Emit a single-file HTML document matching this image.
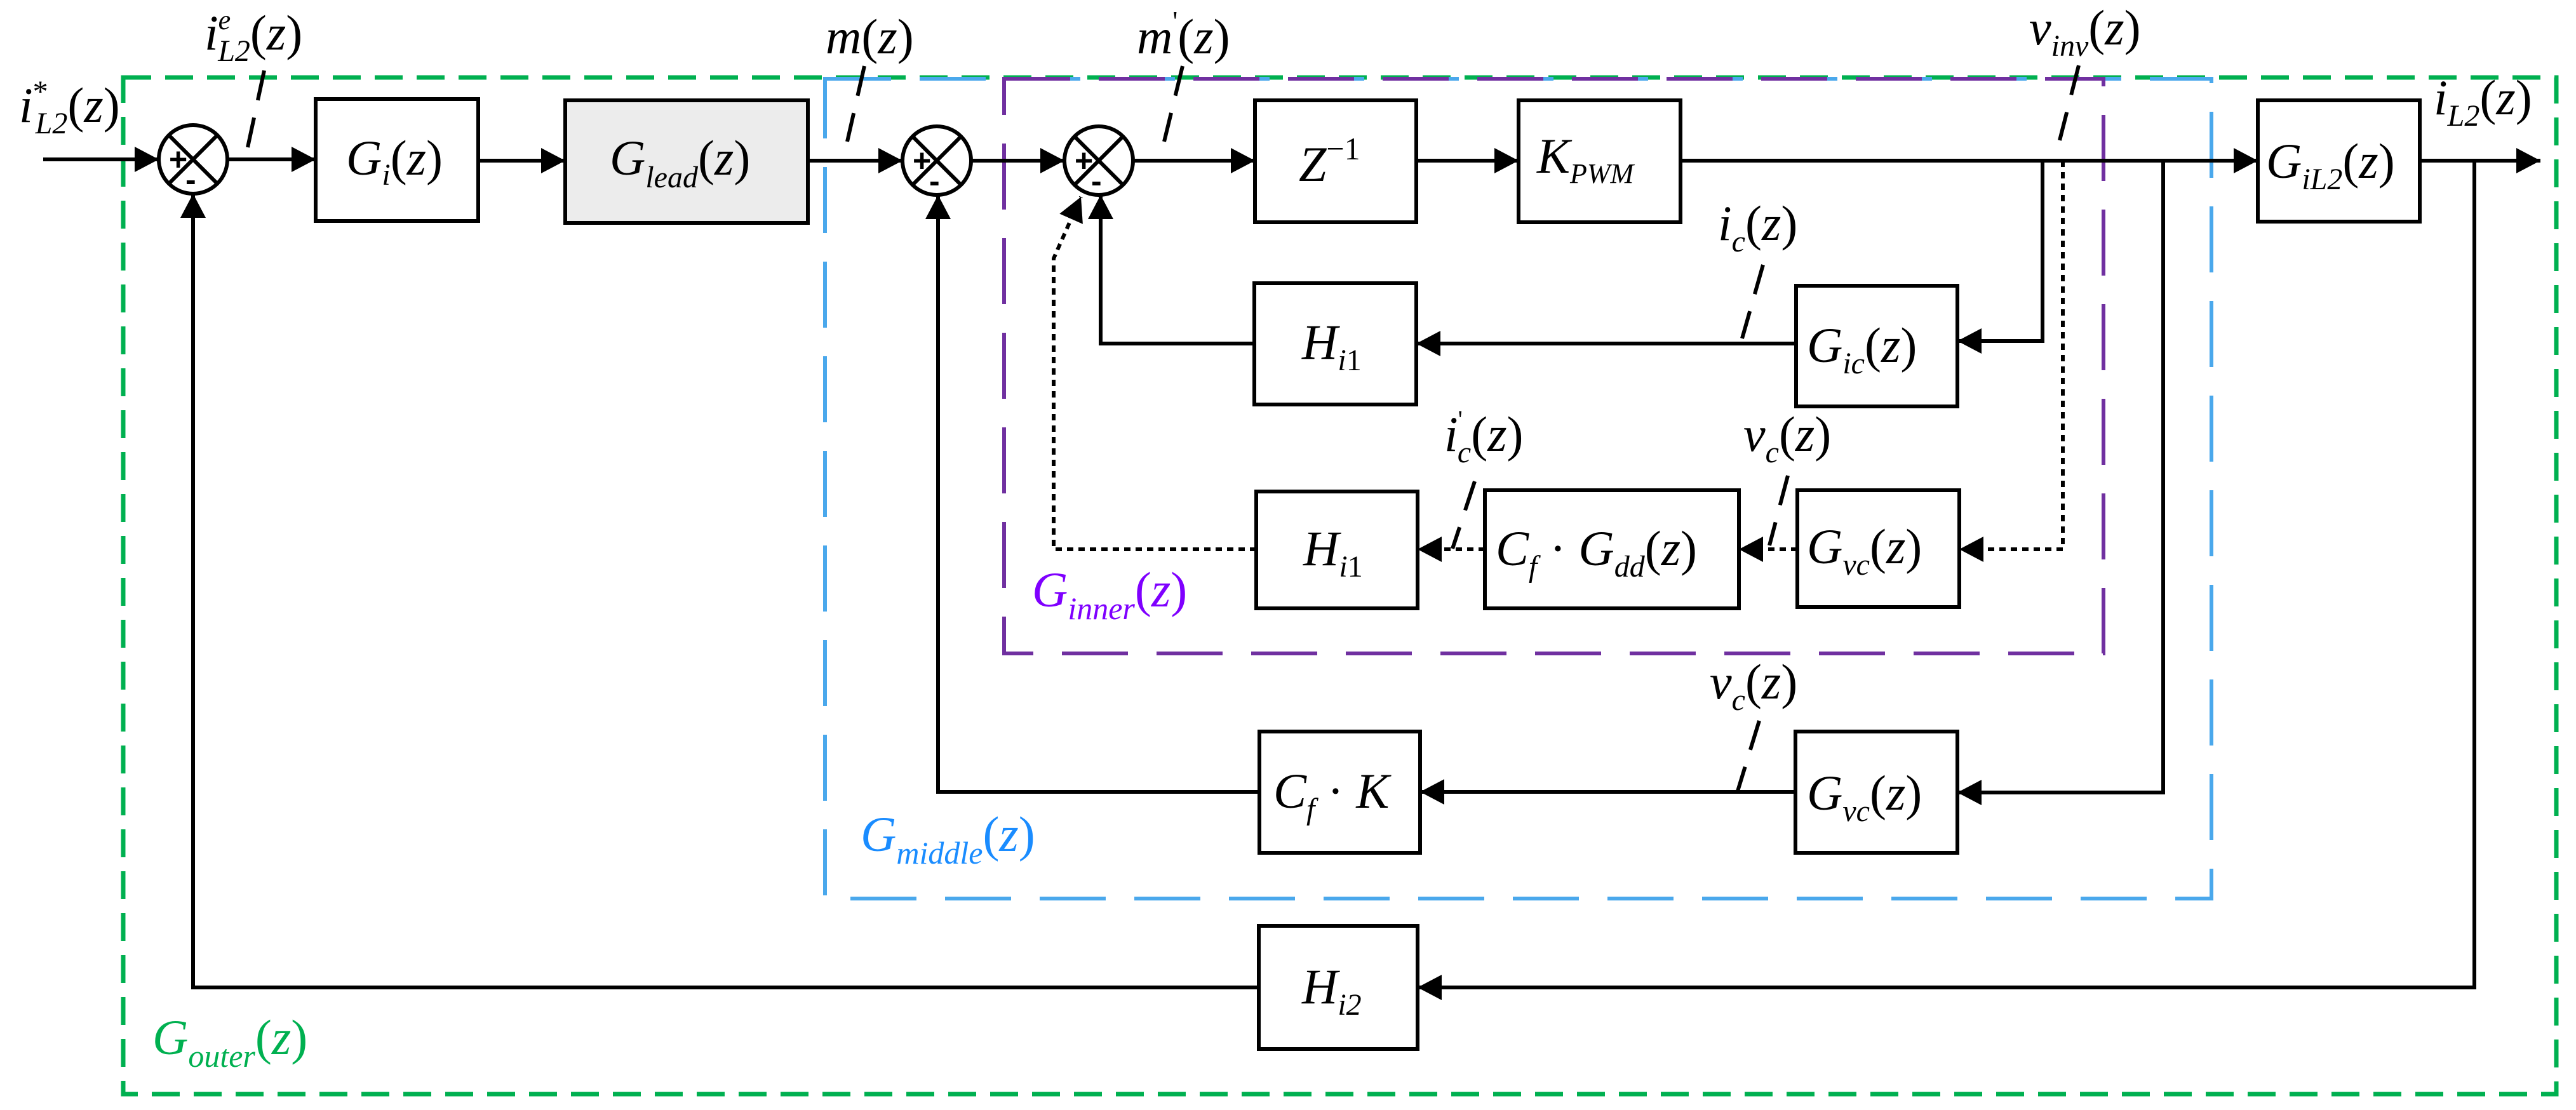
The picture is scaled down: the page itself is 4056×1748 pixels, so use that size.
<!DOCTYPE html>
<html><head><meta charset="utf-8"><style>
html,body{margin:0;padding:0;background:#fff;}
svg{display:block;}
text{font-family:"Liberation Serif",serif;font-style:italic;fill:#000;}
</style></head><body>
<svg width="4056" height="1748" viewBox="0 0 4056 1748" xmlns="http://www.w3.org/2000/svg">
<defs>
<marker id="a" markerUnits="userSpaceOnUse" markerWidth="44" markerHeight="44" refX="38" refY="20" orient="auto">
<path d="M0,0 L38,20 L0,40 Z" fill="#000"/>
</marker>
</defs>

<rect x="194" y="122" width="3831" height="1601" fill="none" stroke="#00b050" stroke-width="7" stroke-dasharray="44,22"/>
<rect x="1299" y="124" width="2183" height="1291" fill="none" stroke="#4aa8ec" stroke-width="6" stroke-dasharray="104,45"/>
<rect x="1581" y="124" width="1731" height="905" fill="none" stroke="#7030a0" stroke-width="6" stroke-dasharray="104,45"/>

<g fill="none" stroke="#000" stroke-width="6">
<rect x="497" y="156" width="256" height="192" fill="#fff"/>
<rect x="890" y="158" width="382" height="193" fill="#ececec"/>
<rect x="1976" y="158" width="254" height="192" fill="#fff"/>
<rect x="2391" y="158" width="255" height="192" fill="#fff"/>
<rect x="3555" y="158" width="255" height="191" fill="#fff"/>
<rect x="1975" y="446" width="255" height="191" fill="#fff"/>
<rect x="2828" y="450" width="254" height="190" fill="#fff"/>
<rect x="1978" y="774" width="254" height="184" fill="#fff"/>
<rect x="2338" y="772" width="400" height="186" fill="#fff"/>
<rect x="2830" y="772" width="255" height="184" fill="#fff"/>
<rect x="1983" y="1152" width="253" height="191" fill="#fff"/>
<rect x="2827" y="1152" width="255" height="191" fill="#fff"/>
<rect x="1982" y="1458" width="250" height="194" fill="#fff"/>

<circle cx="304" cy="251" r="54"/>
<line x1="266" y1="213" x2="342" y2="289"/><line x1="342" y1="213" x2="266" y2="289"/>
<circle cx="1475" cy="253" r="54"/>
<line x1="1437" y1="215" x2="1513" y2="291"/><line x1="1513" y1="215" x2="1437" y2="291"/>
<circle cx="1730" cy="253" r="54"/>
<line x1="1692" y1="215" x2="1768" y2="291"/><line x1="1768" y1="215" x2="1692" y2="291"/>

<line x1="68" y1="251" x2="250" y2="251" marker-end="url(#a)"/>
<line x1="358" y1="251" x2="497" y2="251" marker-end="url(#a)"/>
<line x1="753" y1="253" x2="890" y2="253" marker-end="url(#a)"/>
<line x1="1272" y1="253" x2="1421" y2="253" marker-end="url(#a)"/>
<line x1="1529" y1="253" x2="1676" y2="253" marker-end="url(#a)"/>
<line x1="1784" y1="253" x2="1976" y2="253" marker-end="url(#a)"/>
<line x1="2230" y1="253" x2="2391" y2="253" marker-end="url(#a)"/>
<line x1="2646" y1="253" x2="3555" y2="253" marker-end="url(#a)"/>
<line x1="3810" y1="253" x2="4000" y2="253" marker-end="url(#a)"/>

<polyline points="3216,253 3216,537 3082,537" marker-end="url(#a)"/>
<line x1="2828" y1="541" x2="2230" y2="541" marker-end="url(#a)"/>
<polyline points="1975,541 1733,541 1733,307" marker-end="url(#a)"/>

<g stroke-dasharray="10,8">
<polyline points="3248,253 3248,865 3085,865" marker-end="url(#a)"/>
<line x1="2830" y1="865" x2="2738" y2="865" marker-end="url(#a)"/>
<line x1="2338" y1="865" x2="2232" y2="865" marker-end="url(#a)"/>
<polyline points="1978,865 1659,865 1659,407 1702,310" marker-end="url(#a)"/>
</g>

<polyline points="3406,253 3406,1248 3082,1248" marker-end="url(#a)"/>
<line x1="2827" y1="1247" x2="2236" y2="1247" marker-end="url(#a)"/>
<polyline points="1983,1247 1477,1247 1477,307" marker-end="url(#a)"/>

<polyline points="3896,253 3896,1555 2232,1555" marker-end="url(#a)"/>
<polyline points="1982,1555 304,1555 304,305" marker-end="url(#a)"/>

<g stroke-width="6" stroke-dasharray="48,28">
<line x1="416" y1="111" x2="390" y2="232"/>
<line x1="1361" y1="104" x2="1334" y2="223"/>
<line x1="1862" y1="104" x2="1833" y2="223"/>
<line x1="3273" y1="103" x2="3243" y2="221"/>
<line x1="2776" y1="417" x2="2743" y2="533"/>
<line x1="2815" y1="749" x2="2786" y2="859"/>
<line x1="2322" y1="758" x2="2287" y2="864"/>
<line x1="2770" y1="1135" x2="2735" y2="1249"/>
</g>
</g>

<g style="font-style:normal;font-family:'Liberation Sans',sans-serif;font-weight:bold" font-size="50">
<text x="266" y="268" style="font-style:normal;font-family:'Liberation Sans',sans-serif;font-weight:bold">+</text>
<text x="292" y="300" style="font-style:normal;font-family:'Liberation Sans',sans-serif;font-weight:bold">-</text>
<text x="1437" y="270" style="font-style:normal;font-family:'Liberation Sans',sans-serif;font-weight:bold">+</text>
<text x="1463" y="302" style="font-style:normal;font-family:'Liberation Sans',sans-serif;font-weight:bold">-</text>
<text x="1692" y="270" style="font-style:normal;font-family:'Liberation Sans',sans-serif;font-weight:bold">+</text>
<text x="1718" y="302" style="font-style:normal;font-family:'Liberation Sans',sans-serif;font-weight:bold">-</text>
</g>

<g font-size="78">
<text x="545" y="275">G<tspan font-size="48" dy="16">i</tspan><tspan dy="-16" style="font-style:normal">(</tspan>z<tspan style="font-style:normal">)</tspan></text>
<text x="960" y="275">G<tspan font-size="48" dy="20">lead</tspan><tspan dy="-20" style="font-style:normal">(</tspan>z<tspan style="font-style:normal">)</tspan></text>
<text x="2045" y="285">Z<tspan font-size="50" dy="-34" style="font-style:normal">−1</tspan></text>
<text x="2420" y="272">K<tspan font-size="44" dy="16">PWM</tspan></text>
<text x="3568" y="280">G<tspan font-size="48" dy="18">iL2</tspan><tspan dy="-18" style="font-style:normal">(</tspan>z<tspan style="font-style:normal">)</tspan></text>
<text x="2050" y="565">H<tspan font-size="48" dy="18">i</tspan><tspan font-size="48" style="font-style:normal">1</tspan></text>
<text x="2845" y="570">G<tspan font-size="48" dy="18">ic</tspan><tspan dy="-18" style="font-style:normal">(</tspan>z<tspan style="font-style:normal">)</tspan></text>
<text x="2052" y="890">H<tspan font-size="48" dy="18">i</tspan><tspan font-size="48" style="font-style:normal">1</tspan></text>
<text x="2355" y="890">C<tspan font-size="48" dy="18">f</tspan><tspan dy="-18" style="font-style:normal"> · </tspan>G<tspan font-size="48" dy="18">dd</tspan><tspan dy="-18" style="font-style:normal">(</tspan>z<tspan style="font-style:normal">)</tspan></text>
<text x="2845" y="887">G<tspan font-size="48" dy="18">vc</tspan><tspan dy="-18" style="font-style:normal">(</tspan>z<tspan style="font-style:normal">)</tspan></text>
<text x="2005" y="1272">C<tspan font-size="48" dy="18">f</tspan><tspan dy="-18" style="font-style:normal"> · </tspan>K</text>
<text x="2845" y="1275">G<tspan font-size="48" dy="18">vc</tspan><tspan dy="-18" style="font-style:normal">(</tspan>z<tspan style="font-style:normal">)</tspan></text>
<text x="2050" y="1580">H<tspan font-size="48" dy="18">i2</tspan></text>

<text x="30" y="192">i<tspan font-size="48" dy="-32" style="font-style:normal">*</tspan><tspan font-size="48" dx="-20" dy="50">L2</tspan><tspan dy="-18" style="font-style:normal">(</tspan>z<tspan style="font-style:normal">)</tspan></text>
<text x="322" y="78">i<tspan font-size="44" dy="-32">e</tspan><tspan font-size="48" dx="-20" dy="50">L2</tspan><tspan dy="-18" style="font-style:normal">(</tspan>z<tspan style="font-style:normal">)</tspan></text>
<text x="1300" y="84">m<tspan style="font-style:normal">(</tspan>z<tspan style="font-style:normal">)</tspan></text>
<text x="1790" y="84">m<tspan font-size="44" dy="-36" style="font-style:normal">'</tspan><tspan dy="36" style="font-style:normal">(</tspan>z<tspan style="font-style:normal">)</tspan></text>
<text x="3195" y="70">v<tspan font-size="48" dy="18">inv</tspan><tspan dy="-18" style="font-style:normal">(</tspan>z<tspan style="font-style:normal">)</tspan></text>
<text x="3832" y="180">i<tspan font-size="48" dy="18">L2</tspan><tspan dy="-18" style="font-style:normal">(</tspan>z<tspan style="font-style:normal">)</tspan></text>
<text x="2705" y="378">i<tspan font-size="48" dy="18">c</tspan><tspan dy="-18" style="font-style:normal">(</tspan>z<tspan style="font-style:normal">)</tspan></text>
<text x="2745" y="710">v<tspan font-size="48" dy="18">c</tspan><tspan dy="-18" style="font-style:normal">(</tspan>z<tspan style="font-style:normal">)</tspan></text>
<text x="2274" y="710">i<tspan font-size="40" dy="-36" style="font-style:normal">'</tspan><tspan font-size="48" dx="-8" dy="54">c</tspan><tspan dy="-18" style="font-style:normal">(</tspan>z<tspan style="font-style:normal">)</tspan></text>
<text x="2692" y="1100">v<tspan font-size="48" dy="18">c</tspan><tspan dy="-18" style="font-style:normal">(</tspan>z<tspan style="font-style:normal">)</tspan></text>

<text x="1625" y="955" style="fill:#7f00ff">G<tspan font-size="50" dy="20">inner</tspan><tspan dy="-20" style="font-style:normal">(</tspan>z<tspan style="font-style:normal">)</tspan></text>
<text x="1355" y="1340" style="fill:#1a8cff">G<tspan font-size="50" dy="20">middle</tspan><tspan dy="-20" style="font-style:normal">(</tspan>z<tspan style="font-style:normal">)</tspan></text>
<text x="240" y="1660" style="fill:#00b050">G<tspan font-size="50" dy="20">outer</tspan><tspan dy="-20" style="font-style:normal">(</tspan>z<tspan style="font-style:normal">)</tspan></text>
</g>
</svg>
</body></html>
